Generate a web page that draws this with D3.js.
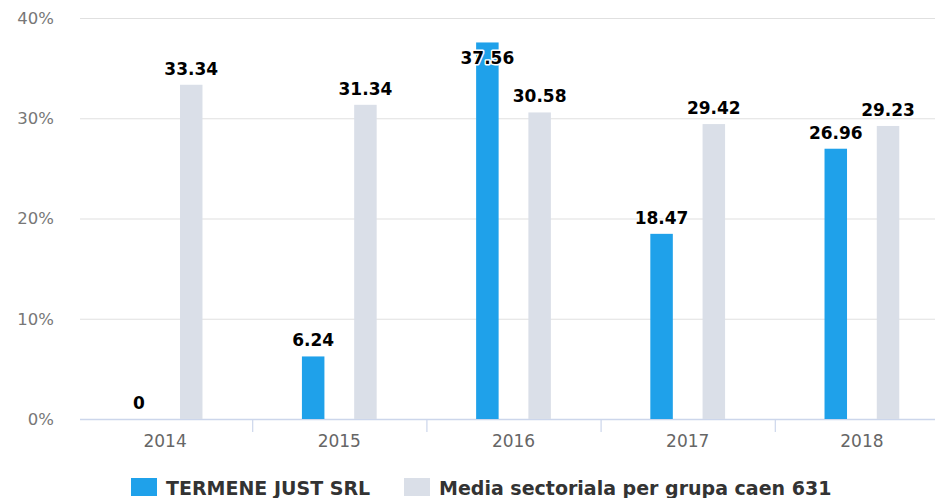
<!DOCTYPE html>
<html><head><meta charset="utf-8">
<script src="https://cdn.jsdelivr.net/npm/d3@7/dist/d3.min.js"></script>
<style>
html,body{margin:0;padding:0;background:#fff;overflow:hidden}
text{font-family:"DejaVu Sans",sans-serif}
</style></head>
<body><svg id="c" width="935" height="498"></svg>
<script>
const years = ["2014","2015","2016","2017","2018"];
const seriesNames = ["TERMENE JUST SRL","Media sectoriala per grupa caen 631"];
const companyValues = [0, 6.24, 37.56, 18.47, 26.96];
const sectorValues = [33.34, 31.34, 30.58, 29.42, 29.23];
const yTicks = [0, 10, 20, 30, 40];
const colors = ["#1fa1ea", "#dadfe8"];

const svg = d3.select("#c");
const plotLeft = 78, plotTop = 18, plotBottom = 419, catW = 174.2;
const x0 = d3.scaleBand().domain(years).range([plotLeft, plotLeft + catW * years.length]).padding(0);
const x1 = d3.scaleBand().domain(seriesNames).range([x0.bandwidth() * 0.2, x0.bandwidth() * 0.8]).padding(0);
const y = d3.scaleLinear().domain([0, 40]).range([plotBottom, plotTop]);
const barW = 22.5;

// grid
svg.append("g").selectAll("line").data(yTicks.filter(t => t > 0)).join("line")
  .attr("x1", plotLeft + 2).attr("x2", 935).attr("y1", d => y(d) + 0.5).attr("y2", d => y(d) + 0.5)
  .attr("stroke", "#e0e0e0").attr("stroke-width", 1.2);

// y labels
const yAxis = d3.axisLeft(y).tickValues(yTicks).tickFormat(d => d + "%").tickSize(0).tickPadding(0);
const ya = svg.append("g").attr("transform", `translate(${plotLeft - 24},0)`).call(yAxis);
ya.select(".domain").remove();
ya.selectAll("text").attr("font-size", 16.5).attr("fill", "#777").attr("dy", "0.32em");

// x axis
const xAxis = d3.axisBottom(x0).tickSize(0).tickPadding(16);
const xa = svg.append("g").attr("transform", `translate(0,${plotBottom})`).call(xAxis);
xa.select(".domain").remove();
xa.selectAll("text").attr("font-size", 17).attr("fill", "#666");
svg.append("line").attr("x1", plotLeft + 2).attr("x2", 935).attr("y1", plotBottom + 0.5).attr("y2", plotBottom + 0.5)
  .attr("stroke", "#ccd6eb").attr("stroke-width", 1.5);
svg.append("g").selectAll("line").data(years.slice(1)).join("line")
  .attr("x1", d => x0(d) + 0.5).attr("x2", d => x0(d) + 0.5)
  .attr("y1", plotBottom).attr("y2", plotBottom + 13).attr("stroke", "#ccd6eb").attr("stroke-width", 1.2);

// bars
const data = years.map((yr, i) => ({year: yr, vals: [
  {s: seriesNames[0], v: companyValues[i], c: colors[0]},
  {s: seriesNames[1], v: sectorValues[i], c: colors[1]}]}));
const groups = svg.append("g").selectAll("g").data(data).join("g")
  .attr("transform", d => `translate(${x0(d.year)},0)`);
groups.selectAll("rect").data(d => d.vals).join("rect")
  .attr("x", d => x1(d.s) + (x1.bandwidth() - barW) / 2)
  .attr("width", barW)
  .attr("y", d => y(d.v))
  .attr("height", d => y(0) - y(d.v))
  .attr("fill", d => d.c);

// labels
const labelMinY = y(35.4);
groups.selectAll("text.lbl").data(d => d.vals).join("text").attr("class", "lbl")
  .attr("x", d => x1(d.s) + x1.bandwidth() / 2)
  .attr("y", d => Math.max(y(d.v) - 10, labelMinY))
  .attr("text-anchor", "middle").attr("font-size", 17).attr("font-weight", "bold")
  .attr("fill", "#000").attr("stroke", "#fff").attr("stroke-width", 3).attr("paint-order", "stroke")
  .attr("stroke-linejoin", "round")
  .text(d => d.v === 0 ? "0" : d.v.toFixed(2));

// legend
const legend = svg.append("g");
const legendX = [131, 404];
seriesNames.forEach((n, i) => {
  legend.append("rect").attr("x", legendX[i]).attr("y", 478).attr("width", 26).attr("height", 18).attr("fill", colors[i]);
  legend.append("text").attr("x", legendX[i] + 35).attr("y", 495).attr("font-size", 19)
    .attr("font-weight", "bold").attr("fill", "#333").text(n);
});
</script></body></html>
